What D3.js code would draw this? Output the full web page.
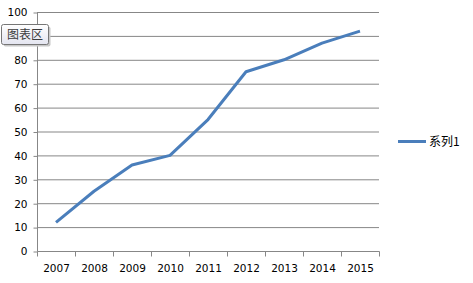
<!DOCTYPE html>
<html><head><meta charset="utf-8">
<script src="https://cdn.jsdelivr.net/npm/d3@7"></script>
<style>body{margin:0;background:#fff}svg{display:block}</style>
</head><body>
<svg id="c" width="473" height="283"></svg>
<script>
const categories = ["2007","2008","2009","2010","2011","2012","2013","2014","2015"];
const series1 = [12,25,36,40,55,75,80,87,92];
const yTicks = [0,10,20,30,40,50,60,70,80,90,100];
const seriesName = "系列1";

const svg = d3.select("#c");
const L=37,R=379,T=12,B=251;
const x = d3.scaleBand().domain(categories).range([L,R]);
const y = d3.scaleLinear().domain([0,100]).range([B,T]);
const font = "DejaVu Sans, sans-serif";

// gridlines
svg.append("g").selectAll("line").data(yTicks.filter(d=>d>0)).join("line")
  .attr("x1",L).attr("x2",R).attr("y1",d=>y(d)+0.5).attr("y2",d=>y(d)+0.5)
  .attr("stroke","#878787").attr("stroke-width",1);

// y axis
const ya = svg.append("g").attr("transform",`translate(${L+0.5},0.5)`)
  .call(d3.axisLeft(y).tickValues(yTicks).tickSize(4).tickPadding(6));
ya.select(".domain").attr("stroke","#878787").attr("d",`M0,${T}V${B}`);
ya.selectAll(".tick line").attr("stroke","#878787");
ya.selectAll("text").attr("font-family",font).attr("font-size",10.5).attr("fill","#000");

// x axis
const xa = svg.append("g").attr("transform",`translate(0.5,${B+0.5})`)
  .call(d3.axisBottom(x).tickSize(0).tickPadding(13));
xa.select(".domain").attr("stroke","#878787").attr("d",`M${L},0H${R}`);
xa.selectAll("text").attr("font-family",font).attr("font-size",10.5).attr("fill","#000");
xa.append("g").selectAll("line").data(categories.concat(["end"])).join("line")
  .attr("x1",(d,i)=>L+i*x.bandwidth()).attr("x2",(d,i)=>L+i*x.bandwidth())
  .attr("y1",0).attr("y2",5).attr("stroke","#878787");

// line
const line = d3.line().x((d,i)=>x(categories[i])+x.bandwidth()/2).y(d=>y(d));
svg.append("path").datum(series1).attr("d",line)
  .attr("fill","none").attr("stroke","#4a7ebb").attr("stroke-width",3)
  .attr("stroke-linejoin","round");

// legend
svg.append("line").attr("x1",398).attr("x2",426).attr("y1",141.5).attr("y2",141.5)
  .attr("stroke","#4a7ebb").attr("stroke-width",3);
svg.append("text").attr("x",429).attr("y",146).text(seriesName)
  .attr("font-family","Noto Sans CJK SC, sans-serif").attr("font-size",12).attr("fill","#000");

// chart area tooltip
const defs = svg.append("defs");
const g = defs.append("linearGradient").attr("id","tg").attr("x1",0).attr("y1",0).attr("x2",0).attr("y2",1);
g.append("stop").attr("offset","0").attr("stop-color","#ffffff");
g.append("stop").attr("offset","1").attr("stop-color","#e4e5f0");
svg.append("rect").attr("x",3.5).attr("y",26.5).attr("width",47).attr("height",20).attr("rx",2)
  .attr("fill","#c8c8c8");
svg.append("rect").attr("x",1.5).attr("y",24.5).attr("width",47).attr("height",20).attr("rx",2)
  .attr("fill","url(#tg)").attr("stroke","#767676");
svg.append("text").attr("x",25).attr("y",39).attr("text-anchor","middle").text("图表区")
  .attr("font-family","Noto Sans CJK SC, sans-serif").attr("font-size",12).attr("fill","#3c3c3c");
</script>
</body></html>
